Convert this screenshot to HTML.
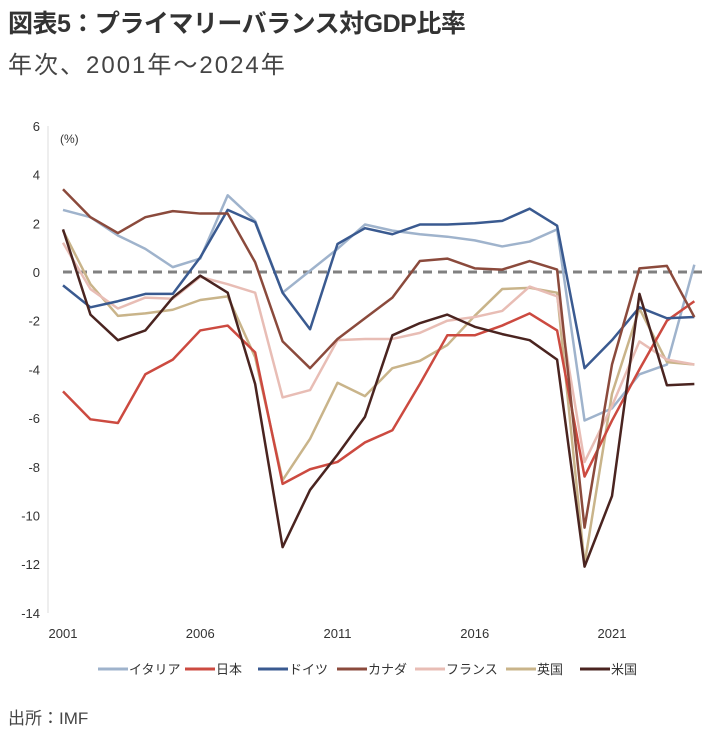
<!DOCTYPE html>
<html><head><meta charset="utf-8"><style>
body{margin:0;background:#fff;width:711px;height:736px;overflow:hidden;font-family:"Liberation Sans","Noto Sans CJK JP",sans-serif;color:#333}
.t{position:absolute;left:8px;top:4px;font-size:25px;font-weight:bold;letter-spacing:-0.5px}
.s{position:absolute;left:8px;top:45px;font-size:24px;color:#444;letter-spacing:2px}
.src{position:absolute;left:8px;top:704px;font-size:17px;color:#444}
svg{position:absolute;left:0;top:0}
</style></head><body>
<div class="t">図表5：プライマリーバランス対GDP比率</div>
<div class="s">年次、2001年～2024年</div>
<div class="src">出所：IMF</div>
<svg width="711" height="736" id="c" font-family="Liberation Sans, Noto Sans CJK JP, sans-serif"></svg>
<script>
const S=document.getElementById('c');
const X=i=>63+i*27.45, Y=v=>272-v*24.35;
let h='<line x1="48" y1="126" x2="48" y2="613" stroke="#ddd"/>';
for(let v=6;v>=-14;v-=2)h+=`<text x="40" y="${Y(v)+5}" font-size="13" text-anchor="end" fill="#333">${v}</text>`;
h+='<text x="60" y="143" font-size="12" fill="#333">(%)</text>';
[2001,2006,2011,2016,2021].forEach((y,k)=>h+=`<text x="${X(k*5)}" y="638" font-size="13" text-anchor="middle" fill="#333">${y}</text>`);
h+=`<line x1="63" y1="272" x2="708" y2="272" stroke="#808080" stroke-width="3" stroke-dasharray="9,6"/>`;
const D=[
['#9fb3cc',[2.55,2.25,1.5,0.95,0.2,0.55,3.15,2.1,-0.85,0.05,0.95,1.95,1.7,1.55,1.45,1.3,1.05,1.25,1.75,-6.1,-5.6,-4.2,-3.8,0.3]],
['#c9b48a',[1.7,-0.5,-1.8,-1.7,-1.55,-1.15,-1.0,-3.5,-8.55,-6.85,-4.55,-5.1,-3.95,-3.65,-3.0,-1.8,-0.7,-0.65,-0.85,-12.0,-5.0,-1.5,-3.7,-3.8]],
['#e8bdb5',[1.2,-0.7,-1.5,-1.05,-1.1,-0.2,-0.5,-0.85,-5.15,-4.85,-2.8,-2.75,-2.75,-2.5,-2.0,-1.85,-1.6,-0.6,-1.0,-7.8,-5.5,-2.85,-3.6,-3.8]],
['#cc4a40',[-4.9,-6.05,-6.2,-4.2,-3.6,-2.4,-2.2,-3.3,-8.7,-8.1,-7.8,-7.0,-6.5,-4.6,-2.6,-2.6,-2.2,-1.7,-2.4,-8.4,-6.1,-4.0,-2.0,-1.2]],
['#3a5a90',[-0.55,-1.45,-1.2,-0.9,-0.9,0.6,2.55,2.05,-0.85,-2.35,1.15,1.8,1.55,1.95,1.95,2.0,2.1,2.6,1.9,-3.95,-2.8,-1.45,-1.9,-1.85]],
['#8b4a3c',[3.4,2.25,1.6,2.25,2.5,2.4,2.4,0.4,-2.85,-3.95,-2.75,-1.9,-1.05,0.45,0.55,0.15,0.1,0.45,0.1,-10.5,-3.8,0.15,0.25,-1.85]],
['#4a2420',[1.75,-1.75,-2.8,-2.4,-1.05,-0.15,-0.85,-4.6,-11.3,-8.95,-7.5,-5.95,-2.6,-2.1,-1.75,-2.25,-2.55,-2.8,-3.6,-12.1,-9.2,-0.9,-4.65,-4.6]]];
D.forEach(([c,a])=>h+=`<polyline fill="none" stroke="${c}" stroke-width="2.5" stroke-linejoin="round" points="${a.map((v,i)=>X(i)+','+Y(v)).join(' ')}"/>`);
const L=[['#9fb3cc','イタリア',98],['#cc4a40','日本',185],['#3a5a90','ドイツ',258],['#8b4a3c','カナダ',337],['#e8bdb5','フランス',415],['#c9b48a','英国',506],['#4a2420','米国',580]];
L.forEach(([c,t,x])=>h+=`<line x1="${x}" y1="669" x2="${x+30}" y2="669" stroke="${c}" stroke-width="3"/><text x="${x+31}" y="674" font-size="13" fill="#333">${t}</text>`);
S.innerHTML=h;
</script>
</body></html>
